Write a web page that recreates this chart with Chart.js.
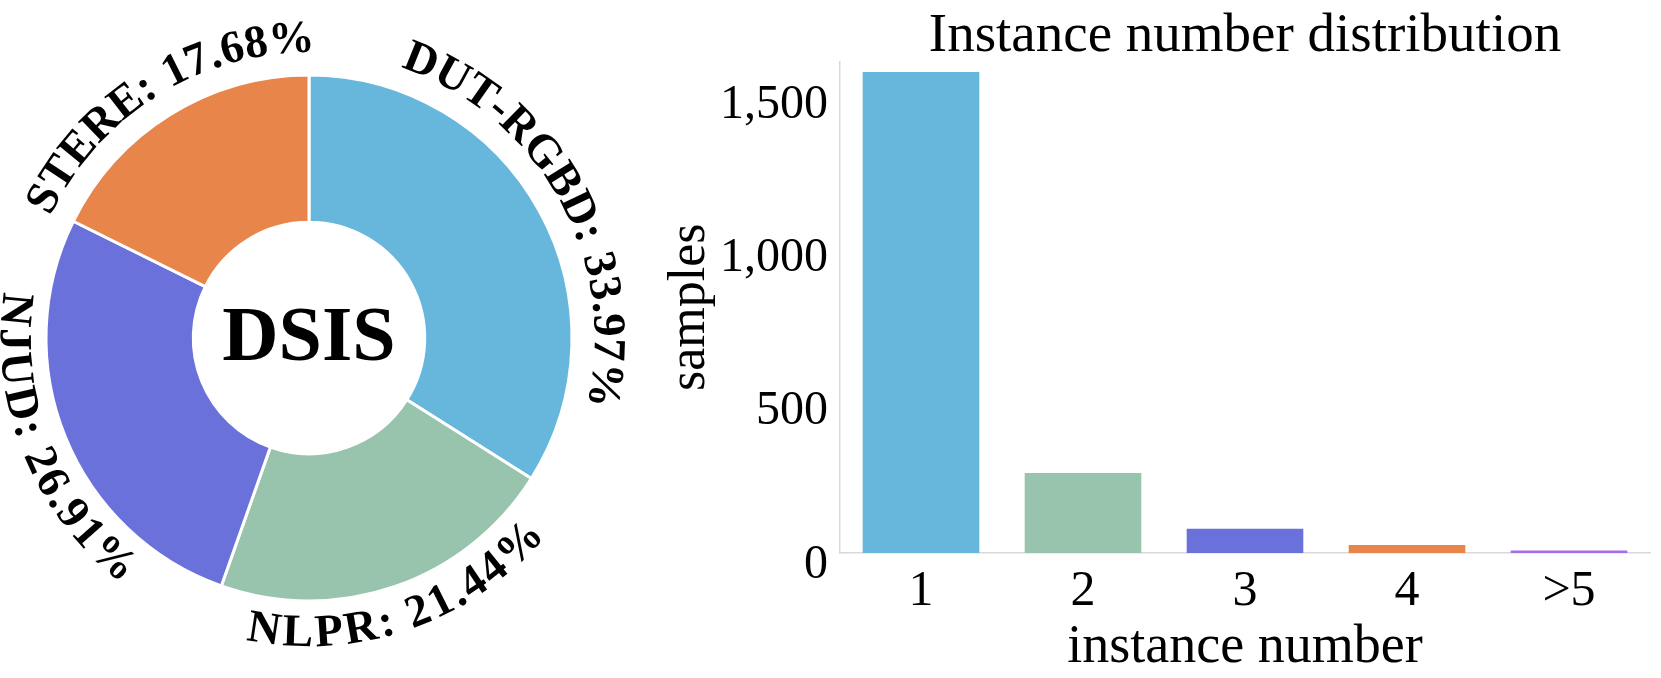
<!DOCTYPE html>
<html>
<head>
<meta charset="utf-8">
<title>DSIS</title>
<script src="https://cdn.jsdelivr.net/npm/chart.js@4.4.1/dist/chart.umd.min.js"></script>
<style>
  body { margin: 0; background: #fff; }
  #wrap { position: relative; width: 1661px; height: 678px; overflow: hidden; }
  #pie { position: absolute; left: 0; top: 0; }
  #bars { position: absolute; left: 640px; top: 0; }
</style>
</head>
<body>
<div id="wrap">
  <canvas id="pie" width="640" height="676"></canvas>
  <canvas id="bars" width="1021" height="678"></canvas>
</div>
<script>
// dataset split (percent of DSIS)
const pieLabels = ['DUT-RGBD', 'NLPR', 'NJUD', 'STERE'];
const pieShares = [33.97, 21.44, 26.91, 17.68];
const pieColors = ['#67b7dc', '#98c4ae', '#6a71db', '#e8854b'];

// instance number distribution
const barCategories = ['1', '2', '3', '4', '>5'];
const barSamples = [1570, 261, 79, 26, 8];
const barColors = ['#67b7dc', '#98c4ae', '#6a71db', '#e8854b', '#a66de8'];
const yTickValues = [0, 500, 1000, 1500];

const serif = '"Liberation Serif", "Times New Roman", serif';

// labels written along the outside of the ring + the name in the hole
const ringText = {
  id: 'ringText',
  afterDatasetsDraw(chart) {
    const ctx = chart.ctx;
    const arcs = chart.getDatasetMeta(0).data;
    const size = 46, spacing = 1.5, capH = size * 0.66;
    ctx.save();
    ctx.fillStyle = '#000';
    ctx.font = 'bold ' + size + 'px ' + serif;
    ctx.textAlign = 'center';
    ctx.textBaseline = 'alphabetic';
    arcs.forEach(function (arc, i) {
      const text = pieLabels[i] + ': ' + pieShares[i].toFixed(2) + '%';
      const mid = (arc.startAngle + arc.endAngle) / 2;
      const flip = Math.sin(mid) > 0;
      const dir = flip ? -1 : 1;
      const r = arc.outerRadius + (flip ? 30 : 38);
      const rb = flip ? r + capH / 2 : r - capH / 2;
      const chars = Array.from(text);
      const w = chars.map(c => ctx.measureText(c).width);
      const total = w.reduce((a, b) => a + b, 0) + spacing * (chars.length - 1);
      let pos = -total / 2;
      chars.forEach(function (c, k) {
        const off = pos + w[k] / 2;
        const a = mid + dir * off / r;
        ctx.save();
        ctx.translate(arc.x + rb * Math.cos(a), arc.y + rb * Math.sin(a));
        ctx.rotate(flip ? a - Math.PI / 2 : a + Math.PI / 2);
        ctx.fillText(c, 0, 0);
        ctx.restore();
        pos += w[k] + spacing;
      });
    });
    const a0 = arcs[0];
    ctx.font = 'bold 78px ' + serif;
    ctx.textBaseline = 'middle';
    ctx.fillText('DSIS', a0.x, a0.y + 2);
    ctx.restore();
  }
};

new Chart(document.getElementById('pie'), {
  type: 'doughnut',
  data: {
    labels: pieLabels,
    datasets: [{
      data: pieShares,
      backgroundColor: pieColors,
      borderColor: '#ffffff',
      borderWidth: 3
    }]
  },
  options: {
    responsive: false,
    animation: false,
    events: [],
    radius: 263,
    cutout: '44%',
    layout: { padding: { left: 0, right: 22, top: 0, bottom: 0 } },
    plugins: { legend: { display: false }, tooltip: { enabled: false } }
  },
  plugins: [ringText]
});

new Chart(document.getElementById('bars'), {
  type: 'bar',
  data: {
    labels: barCategories,
    datasets: [{
      data: barSamples,
      backgroundColor: barColors,
      borderWidth: 0,
      barPercentage: 0.72,
      categoryPercentage: 1
    }]
  },
  options: {
    responsive: false,
    animation: false,
    events: [],
    layout: { padding: { left: 24, right: 11, top: 0, bottom: 0 } },
    plugins: {
      legend: { display: false },
      tooltip: { enabled: false },
      title: {
        display: true,
        text: 'Instance number distribution',
        fullSize: false,
        color: '#000',
        font: { family: serif, size: 55, weight: 'normal', lineHeight: 0.9 },
        padding: { top: 12, bottom: 0 }
      }
    },
    scales: {
      x: {
        grid: { display: false, drawTicks: false, tickLength: 0 },
        border: { display: true, color: '#d9d9d9', width: 1.5 },
        ticks: {
          color: '#000',
          padding: 14,
          font: { family: serif, size: 50, lineHeight: 1 }
        },
        title: {
          display: true,
          text: 'instance number',
          color: '#000',
          font: { family: serif, size: 54, lineHeight: 1 },
          padding: { top: 0, bottom: 3 }
        },
        afterFit(scale) { scale.height = 125; }
      },
      y: {
        min: 0,
        max: 1604,
        grid: { display: false, drawTicks: false, tickLength: 0 },
        border: { display: true, color: '#d9d9d9', width: 1.5 },
        afterBuildTicks(scale) {
          scale.ticks = yTickValues.map(v => ({ value: v }));
        },
        ticks: {
          color: '#000',
          padding: 12,
          labelOffset: 12,
          font: { family: serif, size: 48, lineHeight: 1 }
        },
        title: {
          display: true,
          text: 'samples',
          color: '#000',
          font: { family: serif, size: 52, lineHeight: 1 },
          padding: { top: 0, bottom: 0 }
        },
        afterFit(scale) { scale.width = 176; }
      }
    }
  }
});
</script>
</body>
</html>
